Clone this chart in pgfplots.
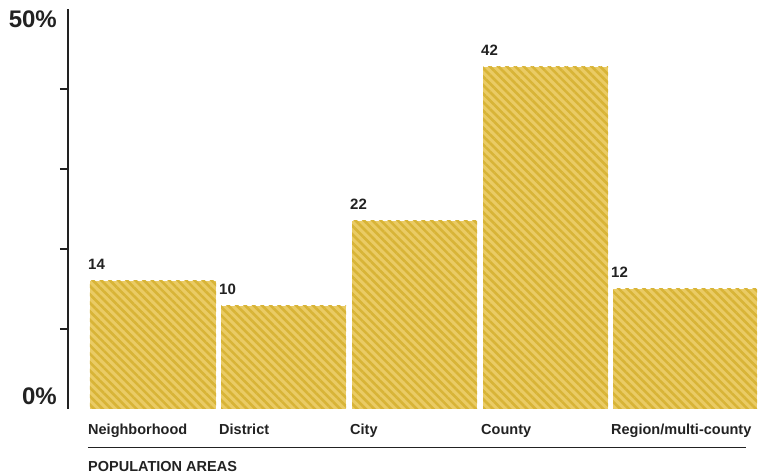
\documentclass[border=0pt]{standalone}
\usepackage{pgfplots}
\pgfplotsset{compat=1.18}
\usepackage{fontspec}
\setmainfont{Liberation Sans}
\usetikzlibrary{patterns.meta}
\definecolor{barbase}{HTML}{EACB64}
\definecolor{barstripe}{HTML}{D8B437}
\definecolor{ink}{HTML}{222222}
\begin{document}
\begin{tikzpicture}[x=1pt,y=1pt]
\path[use as bounding box] (-68,-67) rectangle (692,409);
\begin{axis}[
  at={(0,0)}, anchor=south west,
  scale only axis, width=692pt, height=400pt,
  xmin=0, xmax=692, ymin=0, ymax=50,
  axis x line=none, axis y line=left,
  axis line style={-, ink, line width=1.3pt},
  ytick={10,20,30,40}, yticklabels={},
  tick align=outside, major tick length=8pt,
  ytick style={ink, line width=1.1pt},
  xtick=\empty,
  clip=false,
  bar/.style={draw=none, fill=barbase,
    postaction={pattern={Lines[angle=-45,distance=6pt,line width=2.6pt]}, pattern color=barstripe}},
]
% bars: left edge, right edge, height
\addplot[bar] coordinates {(22,0) (22,16) (148,16) (148,0)} -- cycle;
\addplot[bar] coordinates {(153,0) (153,12.9) (278,12.9) (278,0)} -- cycle;
\addplot[bar] coordinates {(284,0) (284,23.5) (409,23.5) (409,0)} -- cycle;
\addplot[bar] coordinates {(415,0) (415,42.75) (540,42.75) (540,0)} -- cycle;
\addplot[bar] coordinates {(545,0) (545,15) (689,15) (689,0)} -- cycle;
% value labels
\begin{scope}[every node/.style={inner sep=0pt, anchor=base west, text=ink, font=\bfseries\fontsize{15}{18}\selectfont}]
\node at (axis cs:20,16) [yshift=11pt] {14};
\node at (axis cs:151,12.9) [yshift=11pt] {10};
\node at (axis cs:282,23.5) [yshift=11pt] {22};
\node at (axis cs:413,42.75) [yshift=11pt] {42};
\node at (axis cs:543,15) [yshift=11pt] {12};
\end{scope}
% category labels
\begin{scope}[every node/.style={inner sep=0pt, anchor=base west, text=ink, font=\bfseries\fontsize{14.5}{17}\selectfont}]
\node at (axis cs:20,0) [yshift=-26pt] {Neighborhood};
\node at (axis cs:151,0) [yshift=-26pt] {District};
\node at (axis cs:282,0) [yshift=-26pt] {City};
\node at (axis cs:413,0) [yshift=-26pt] {County};
\node at (axis cs:543,0) [yshift=-26pt] {Region/multi-county};
\node at (axis cs:20,0) [yshift=-63pt] {POPULATION AREAS};
\end{scope}
\draw[ink, line width=1.3pt] (axis cs:20,0) ++(0,-38.5pt) -- ++(658pt,0);
% y labels
\node[inner sep=0pt, anchor=base east, text=ink, font=\bfseries\fontsize{24}{28}\selectfont] at (axis cs:0,50) [xshift=-11pt, yshift=-19pt] {50\%};
\node[inner sep=0pt, anchor=base east, text=ink, font=\bfseries\fontsize{24}{28}\selectfont] at (axis cs:0,0) [xshift=-11pt, yshift=4pt] {0\%};
\end{axis}
\end{tikzpicture}
\end{document}
